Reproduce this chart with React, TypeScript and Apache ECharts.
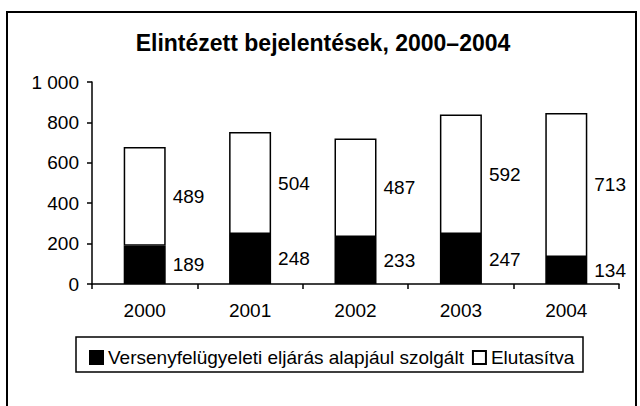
import React, { useEffect, useRef } from "react";
import * as echarts from "echarts";

const years = ["2000", "2001", "2002", "2003", "2004"];
const proceedings = [189, 248, 233, 247, 134];
const rejected = [489, 504, 487, 592, 713];
const seriesNames = ["Versenyfelügyeleti eljárás alapjául szolgált", "Elutasítva"];
const titleText = "Elintézett bejelentések, 2000–2004";

const FONT = "'Liberation Sans', Arial, Helvetica, sans-serif";

export default function App() {
  const ref = useRef<HTMLDivElement>(null);
  useEffect(() => {
    if (!ref.current) return;
    const chart = echarts.init(ref.current, null, { renderer: "svg" });
    const labelStyle = {
      show: true,
      position: "right",
      distance: 7,
      color: "#000",
      fontSize: 19,
      fontFamily: FONT,
    };
    chart.setOption({
      animation: false,
      backgroundColor: "#fff",
      textStyle: { fontFamily: FONT, color: "#000" },
      grid: { left: 92, right: 21, top: 82, bottom: 122, containLabel: false },
      legend: {
        left: 84,
        top: 343,
        itemWidth: 13,
        itemHeight: 13,
        itemGap: 8,
        icon: "rect",
        textStyle: { fontSize: 19, color: "#000", fontFamily: FONT },
        data: seriesNames,
      },
      xAxis: {
        type: "category",
        data: years,
        boundaryGap: true,
        axisLine: { lineStyle: { color: "#000", width: 1.5 } },
        axisTick: { show: true, length: 5, alignWithLabel: false, lineStyle: { color: "#000", width: 1.5 } },
        axisLabel: { color: "#000", fontSize: 19, margin: 17, fontFamily: FONT },
      },
      yAxis: {
        type: "value",
        min: 0,
        max: 1000,
        interval: 200,
        axisLine: { show: true, lineStyle: { color: "#000", width: 1.5 } },
        axisTick: { show: true, length: 5, lineStyle: { color: "#000", width: 1.5 } },
        splitLine: { show: false },
        axisLabel: {
          color: "#000",
          fontSize: 19,
          margin: 13,
          fontFamily: FONT,
          formatter: (v: number) => String(v).replace(/\B(?=(\d{3})+(?!\d))/g, " "),
        },
      },
      series: [
        {
          name: seriesNames[0],
          type: "bar",
          stack: "total",
          barWidth: 42,
          data: proceedings,
          itemStyle: { color: "#000", borderColor: "#000", borderWidth: 1.5 },
          label: labelStyle,
        },
        {
          name: seriesNames[1],
          type: "bar",
          stack: "total",
          barWidth: 42,
          data: rejected,
          itemStyle: { color: "#fff", borderColor: "#000", borderWidth: 1.5 },
          label: labelStyle,
        },
      ],
      graphic: [
        {
          type: "rect",
          shape: { x: 7, y: 12, width: 629, height: 500 },
          style: { fill: "none", stroke: "#000", lineWidth: 2 },
          silent: true,
        },
        {
          type: "rect",
          shape: { x: 76, y: 337, width: 507, height: 35 },
          style: { fill: "none", stroke: "#000", lineWidth: 1.5 },
          silent: true,
        },
        {
          type: "text",
          x: 323,
          y: 43,
          style: {
            text: titleText,
            fill: "#000",
            font: `bold 23px ${FONT}`,
            textAlign: "center",
            textVerticalAlign: "middle",
          },
          silent: true,
        },
      ],
    });
    return () => chart.dispose();
  }, []);
  return (
    <div
      ref={ref}
      style={{ position: "fixed", left: 0, top: 0, width: 640, height: 406 }}
    />
  );
}
